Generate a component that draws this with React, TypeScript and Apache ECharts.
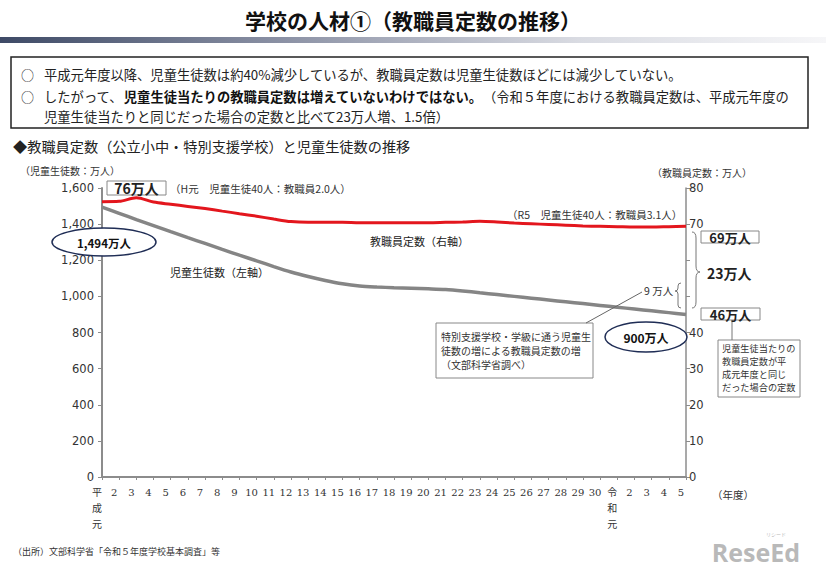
import React, { useEffect, useRef } from "react";
import * as echarts from "echarts";

const categories: string[] = [
  "平\n成\n元", "2", "3", "4", "5", "6", "7", "8", "9", "10",
  "11", "12", "13", "14", "15", "16", "17", "18", "19", "20",
  "21", "22", "23", "24", "25", "26", "27", "28", "29", "30",
  "令\n和\n元", "2", "3", "4", "5",
];

// 児童生徒数（万人, 左軸）
const students: number[] = [
  1494, 1460, 1425, 1392, 1358, 1325, 1293, 1260, 1228, 1197,
  1165, 1135, 1110, 1088, 1070, 1058, 1052, 1048, 1045, 1042,
  1038, 1030, 1020, 1010, 1000, 990, 980, 970, 960, 950,
  940, 930, 920, 910, 900,
];

// 教職員定数（万人, 右軸）
const teachers: number[] = [
  76.2, 76.3, 77.3, 76.1, 75.5, 74.9, 74.3, 73.6, 72.9, 72.2,
  71.4, 70.7, 70.5, 70.5, 70.5, 70.4, 70.4, 70.4, 70.4, 70.4,
  70.5, 70.6, 70.8, 70.6, 70.3, 70.1, 69.9, 69.7, 69.5, 69.4,
  69.3, 69.2, 69.2, 69.3, 69.4,
];

const leftAxis = { min: 0, max: 1600, interval: 200 };
const rightAxis = { min: 0, max: 80, interval: 10 };
const rightHiddenLabels: number[] = [50, 60];

const JP = '"Noto Sans CJK JP", "Noto Sans", sans-serif';
const NUM = '"DejaVu Sans", Verdana, sans-serif';

echarts.graphic.registerShape(
  "braceBig",
  echarts.graphic.extendPath(
    "M692,232 Q696,232 696,238 L696,266 Q696,272 700,272 Q696,272 696,278 L696,302 Q696,308 692,308",
    {}
  )
);
echarts.graphic.registerShape(
  "braceSmall",
  echarts.graphic.extendPath(
    "M681,283 Q678,283 678,286 L678,288 Q678,291 675,291 Q678,291 678,294 L678,305 Q678,308 681,308",
    {}
  )
);

function txt(x: number, y: number, text: string, extra: any = {}) {
  return {
    type: "text",
    x,
    y,
    z: 100,
    style: {
      text,
      fontFamily: JP,
      fontSize: 11,
      fill: "#222",
      textAlign: "left",
      textVerticalAlign: "middle",
      ...extra,
    },
  };
}

function box(x: number, y: number, w: number, h: number, stroke = "#888") {
  return {
    type: "rect",
    z: 90,
    shape: { x, y, width: w, height: h },
    style: { fill: "#fff", stroke, lineWidth: 1 },
  };
}

const FS = 13.3;

export default function App() {
  const ref = useRef<HTMLDivElement>(null);

  useEffect(() => {
    document.body.style.margin = "0";
    if (!ref.current) return;
    const chart = echarts.init(ref.current, null, { renderer: "svg" });

    const graphic: any[] = [
      // title
      txt(413, 20, "学校の人材①（教職員定数の推移）", {
        fontSize: 21,
        fontWeight: "bold",
        textAlign: "center",
        fill: "#111",
      }),
      {
        type: "rect",
        shape: { x: 0, y: 37, width: 826, height: 6 },
        style: {
          fill: new echarts.graphic.LinearGradient(0, 0, 1, 0, [
            { offset: 0, color: "#3e4a66" },
            { offset: 0.35, color: "#8d93a6" },
            { offset: 0.7, color: "#d9dbe2" },
            { offset: 1, color: "#f6f6f8" },
          ]),
        },
      },
      // text box
      {
        type: "rect",
        shape: { x: 11, y: 57, width: 797, height: 71 },
        style: { fill: "#fff", stroke: "#222", lineWidth: 1.5 },
      },
      txt(21, 74, "○", { fontSize: 13, lineHeight: 15 }),
      txt(44, 74, "平成元年度以降、児童生徒数は約40%減少しているが、教職員定数は児童生徒数ほどには減少していない。", { fontSize: FS, lineHeight: 15 }),
      txt(21, 96, "○", { fontSize: 13, lineHeight: 15 }),
      txt(44, 96, "したがって、", { fontSize: FS, lineHeight: 15 }),
      txt(44 + 6 * FS, 96, "児童生徒当たりの教職員定数は増えていないわけではない。", {
        fontSize: FS,
        lineHeight: 15,
        fontWeight: "bold",
        fill: "#111",
      }),
      txt(44 + 33 * FS, 96, "（令和５年度における教職員定数は、平成元年度の", { fontSize: FS, lineHeight: 15 }),
      txt(44, 116, "児童生徒当たりと同じだった場合の定数と比べて23万人増、1.5倍）", { fontSize: FS, lineHeight: 15 }),
      // subtitle
      txt(13, 146, "◆教職員定数（公立小中・特別支援学校）と児童生徒数の推移", { fontSize: 14.2, fill: "#222" }),
      txt(20, 170, "（児童生徒数：万人）", { fontSize: 10, fill: "#333" }),
      txt(652, 172, "（教職員定数：万人）", { fontSize: 10, fill: "#333" }),
      // 76万人
      box(107, 181, 59, 14),
      txt(136.5, 188, "76万人", { fontSize: 14, fontWeight: "bold", textAlign: "center" }),
      txt(170, 188, "（H元　児童生徒40人：教職員2.0人）", { fontSize: 10.5, fill: "#333" }),
      txt(507, 214, "（R5　児童生徒40人：教職員3.1人）", { fontSize: 10.5, fill: "#333" }),
      // 1,494万人 ellipse
      {
        type: "ellipse",
        z: 90,
        shape: { cx: 104, cy: 242, rx: 52, ry: 14 },
        style: { fill: "#fff", stroke: "#1f2d55", lineWidth: 1.5 },
      },
      txt(104, 243, "1,494万人", { fontSize: 11.5, fontWeight: "bold", textAlign: "center", fill: "#111" }),
      txt(370, 241, "教職員定数（右軸）", { fontSize: 11, fill: "#222" }),
      txt(170, 272, "児童生徒数（左軸）", { fontSize: 11, fill: "#222" }),
      // right side annotations
      box(701, 231, 58, 12),
      txt(730, 237.5, "69万人", { fontSize: 13, fontWeight: "bold", textAlign: "center" }),
      {
        type: "braceBig",
        z: 95,
        style: { fill: null, stroke: "#777", lineWidth: 1 },
      },
      txt(707, 273, "23万人", { fontSize: 14, fontWeight: "bold" }),
      {
        type: "braceSmall",
        z: 95,
        style: { fill: null, stroke: "#777", lineWidth: 1 },
      },
      txt(644, 290, "9 万人", { fontSize: 10.5, fill: "#333" }),
      box(701, 308, 59, 12),
      txt(730.5, 314.5, "46万人", { fontSize: 13, fontWeight: "bold", textAlign: "center" }),
      {
        type: "line",
        z: 95,
        shape: { x1: 732, y1: 320, x2: 732, y2: 340 },
        style: { stroke: "#777", lineWidth: 1 },
      },
      box(718, 340, 82, 57),
      txt(722, 348, "児童生徒当たりの", { fontSize: 9.2, fill: "#333" }),
      txt(722, 361, "教職員定数が平", { fontSize: 9.2, fill: "#333" }),
      txt(722, 374, "成元年度と同じ", { fontSize: 9.2, fill: "#333" }),
      txt(722, 387, "だった場合の定数", { fontSize: 9.2, fill: "#333" }),
      // 900万人 ellipse
      {
        type: "ellipse",
        z: 90,
        shape: { cx: 646, cy: 337, rx: 41, ry: 15 },
        style: { fill: "#fff", stroke: "#1f2d55", lineWidth: 1.5 },
      },
      txt(646, 337, "900万人", { fontSize: 12, fontWeight: "bold", textAlign: "center", fill: "#111" }),
      // special support box
      {
        type: "line",
        z: 95,
        shape: { x1: 586, y1: 323, x2: 642, y2: 292 },
        style: { stroke: "#666", lineWidth: 1 },
      },
      box(436, 323, 157, 55),
      txt(441, 336, "特別支援学校・学級に通う児童生", { fontSize: 10, fill: "#333" }),
      txt(441, 350, "徒数の増による教職員定数の増", { fontSize: 10, fill: "#333" }),
      txt(441, 364, "（文部科学省調べ）", { fontSize: 10, fill: "#333" }),
      txt(712, 494, "（年度）", { fontSize: 10.5, fill: "#333" }),
      txt(13, 551, "（出所）文部科学省「令和５年度学校基本調査」等", { fontSize: 9, fill: "#333" }),
      // logo
      txt(800, 552, "ReseEd", {
        fontSize: 25,
        lineHeight: 26,
        fontWeight: "bold",
        fontFamily: '"Open Sans", sans-serif',
        fill: "#b9b9b9",
        textAlign: "right",
      }),
      txt(776, 533, "リシード", { fontSize: 5, fill: "#bbb", textAlign: "center" }),
    ];

    chart.setOption({
      animation: false,
      backgroundColor: "#fff",
      grid: { left: 102, right: 140, top: 188, bottom: 94, containLabel: false },
      xAxis: {
        type: "category",
        data: categories,
        boundaryGap: false,
        axisLine: { lineStyle: { color: "#8c8c8c", width: 2 } },
        axisTick: { alignWithLabel: true, length: 3, lineStyle: { color: "#8c8c8c" } },
        axisLabel: {
          interval: 0,
          margin: 7,
          fontSize: 10,
          lineHeight: 16,
          fontFamily: '"DejaVu Serif", "Noto Sans CJK JP", serif',
          color: "#333",
          padding: [0, 10, 0, 0],
        },
        splitLine: { show: false },
      },
      yAxis: [
        {
          type: "value",
          position: "left",
          min: leftAxis.min,
          max: leftAxis.max,
          interval: leftAxis.interval,
          axisLine: { show: true, lineStyle: { color: "#8c8c8c", width: 2 } },
          axisTick: { show: true, length: 4, lineStyle: { color: "#8c8c8c" } },
          splitLine: { show: false },
          axisLabel: {
            fontSize: 11.5,
            fontFamily: NUM,
            color: "#333",
            margin: 8,
            formatter: (v: number) => v.toLocaleString("en-US"),
          },
        },
        {
          type: "value",
          position: "right",
          min: rightAxis.min,
          max: rightAxis.max,
          interval: rightAxis.interval,
          axisLine: { show: true, lineStyle: { color: "#8c8c8c", width: 1.5 } },
          axisTick: { show: true, length: 4, lineStyle: { color: "#8c8c8c" } },
          splitLine: { show: false },
          axisLabel: {
            fontSize: 11.5,
            fontFamily: NUM,
            color: "#333",
            margin: 3,
            formatter: (v: number) => (rightHiddenLabels.includes(v) ? "" : String(v)),
          },
        },
      ],
      series: [
        {
          name: "児童生徒数",
          type: "line",
          yAxisIndex: 0,
          data: students,
          smooth: 0.3,
          showSymbol: false,
          lineStyle: { color: "#858585", width: 3.5 },
          z: 3,
        },
        {
          name: "教職員定数",
          type: "line",
          yAxisIndex: 1,
          data: teachers,
          smooth: 0.3,
          showSymbol: false,
          lineStyle: { color: "#e3161d", width: 3 },
          z: 4,
        },
      ],
      graphic,
    });

    return () => chart.dispose();
  }, []);

  return <div ref={ref} style={{ width: 826, height: 571 }} />;
}
